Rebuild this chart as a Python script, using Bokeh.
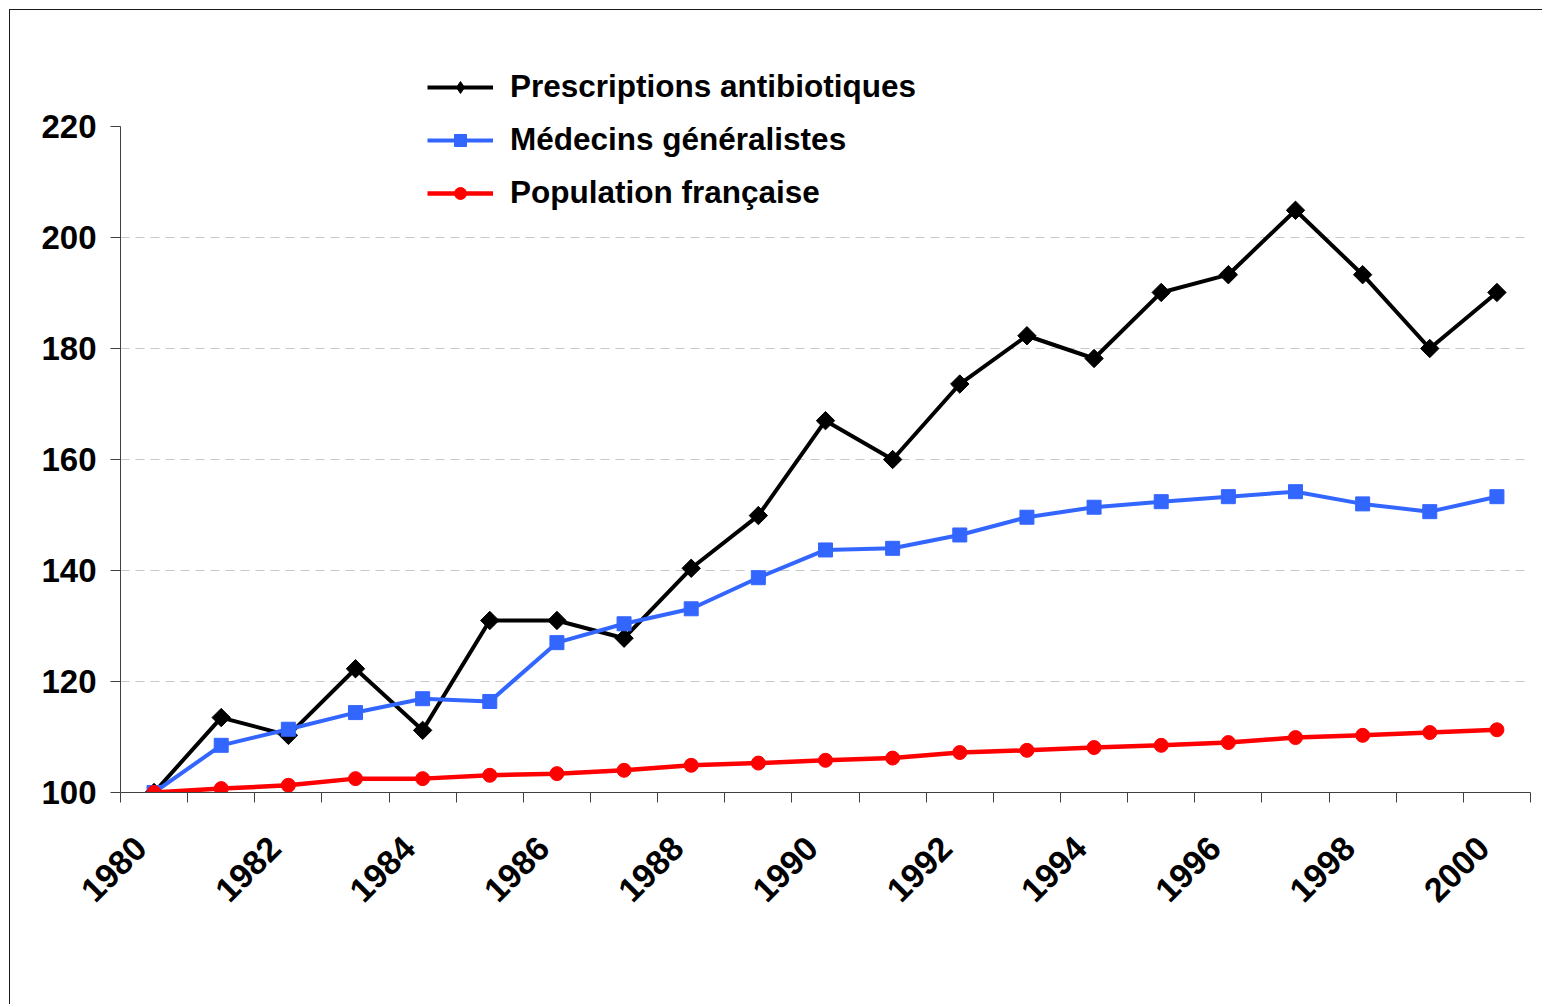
import math
from bokeh.plotting import figure
from bokeh.models import (Range1d, FixedTicker, Legend, LegendItem, ColumnDataSource)
from bokeh.embed import file_html
from bokeh.resources import INLINE

years = list(range(1980, 2001))
tick_years = [y for y in years if y % 2 == 0]

prescriptions = [100.0, 113.5, 110.3, 122.3, 111.2, 131.0, 131.0, 127.8, 140.4, 149.9,
                 167.0, 160.0, 173.6, 182.3, 178.2, 190.1, 193.3, 204.9, 193.3, 180.0, 190.1]
medecins = [100.0, 108.5, 111.4, 114.4, 116.9, 116.4, 127.0, 130.4, 133.1, 138.7,
            143.7, 144.0, 146.4, 149.6, 151.4, 152.4, 153.3, 154.2, 152.0, 150.6, 153.3]
population = [100.0, 100.7, 101.3, 102.5, 102.5, 103.1, 103.4, 104.0, 104.9, 105.3,
              105.8, 106.2, 107.2, 107.6, 108.1, 108.5, 109.0, 109.9, 110.3, 110.8, 111.3]

series_names = ["Prescriptions antibiotiques", "Médecins généralistes", "Population française"]
y_ticks = [100, 120, 140, 160, 180, 200, 220]

idx = list(range(len(years)))
src = ColumnDataSource(dict(x=idx, a=prescriptions, b=medecins, c=population))

FONT = "Liberation Sans"

# frame: 742 px tall, 120 units span 666 px -> extend range above 220 to leave room for legend
Y_TOP = 100 + 120 * 742 / 666

p = figure(width=1533, height=995, output_backend="svg", toolbar_location=None,
           x_range=Range1d(-0.5, len(years) - 0.5), y_range=Range1d(100, Y_TOP),
           min_border_left=110, min_border_right=13, min_border_top=40, min_border_bottom=213,
           styles={"border-left": "1.5px solid #1a1a1a", "border-top": "1.5px solid #1a1a1a",
                   "margin-left": "9px", "margin-top": "9px"})
p.outline_line_color = None
p.background_fill_color = "white"
p.border_fill_color = "white"

# x axis: rotated labels anchored slightly left of each category centre
LABEL_SHIFT = 0.2
label_pos = {round(years.index(y) - LABEL_SHIFT, 3): str(y) for y in tick_years}
p.xaxis.ticker = FixedTicker(ticks=list(label_pos.keys()),
                             minor_ticks=[i - 0.5 for i in range(len(years) + 1)])
p.xaxis.major_label_overrides = label_pos
p.xaxis.major_tick_out = 0
p.xaxis.major_tick_in = 0
p.xaxis.minor_tick_out = 10
p.xaxis.minor_tick_in = 0
p.xaxis.minor_tick_line_color = "#404040"
p.xaxis.axis_line_color = "#404040"
p.xaxis.major_label_orientation = math.pi / 4
p.xaxis.major_label_text_font = FONT
p.xaxis.major_label_text_font_style = "bold"
p.xaxis.major_label_text_font_size = "34px"
p.xaxis.major_label_text_color = "black"
p.xaxis.major_label_standoff = 40

# y axis
p.yaxis.ticker = FixedTicker(ticks=y_ticks)
p.yaxis.bounds = (100, 220)
p.yaxis.major_tick_out = 10
p.yaxis.major_tick_in = 0
p.yaxis.minor_tick_line_color = None
p.yaxis.major_tick_line_color = "#404040"
p.yaxis.axis_line_color = "#404040"
p.yaxis.major_label_text_font = FONT
p.yaxis.major_label_text_font_style = "bold"
p.yaxis.major_label_text_font_size = "33px"
p.yaxis.major_label_text_color = "black"
p.yaxis.major_label_standoff = 14

p.xgrid.visible = False
p.ygrid.ticker = FixedTicker(ticks=[t for t in y_ticks if 100 < t < 220])
p.ygrid.grid_line_color = "#c8c8c8"
p.ygrid.grid_line_dash = "9 6"
p.ygrid.grid_line_width = 1

l1 = p.line("x", "a", source=src, line_color="black", line_width=4)
# diamond used for the legend swatch; fully hidden under the rotated squares in the chart
m1_leg = p.scatter("x", "a", source=src, marker="diamond", size=16,
                   fill_color="black", line_color="black")
m1 = p.scatter("x", "a", source=src, marker="square", angle=math.pi / 4, size=13,
               fill_color="black", line_color="black")
l2 = p.line("x", "b", source=src, line_color="#3366FF", line_width=4)
m2 = p.scatter("x", "b", source=src, marker="square", size=14,
               fill_color="#3366FF", line_color="#3366FF")
l3 = p.line("x", "c", source=src, line_color="#FF0000", line_width=4.5)
m3 = p.scatter("x", "c", source=src, marker="circle", size=14,
               fill_color="#FF0000", line_color="#FF0000")

legend = Legend(items=[LegendItem(label=series_names[0], renderers=[l1, m1_leg]),
                       LegendItem(label=series_names[1], renderers=[l2, m2]),
                       LegendItem(label=series_names[2], renderers=[l3, m3])],
                location=(307, 581), orientation="vertical",
                glyph_width=66, glyph_height=30, label_height=30, label_standoff=17,
                spacing=16, padding=0, margin=0,
                border_line_color=None, background_fill_alpha=0,
                label_text_font=FONT, label_text_font_style="bold",
                label_text_font_size="31.5px", label_text_color="black")
p.add_layout(legend, "center")

open("out.html", "w").write(file_html(p, INLINE))
